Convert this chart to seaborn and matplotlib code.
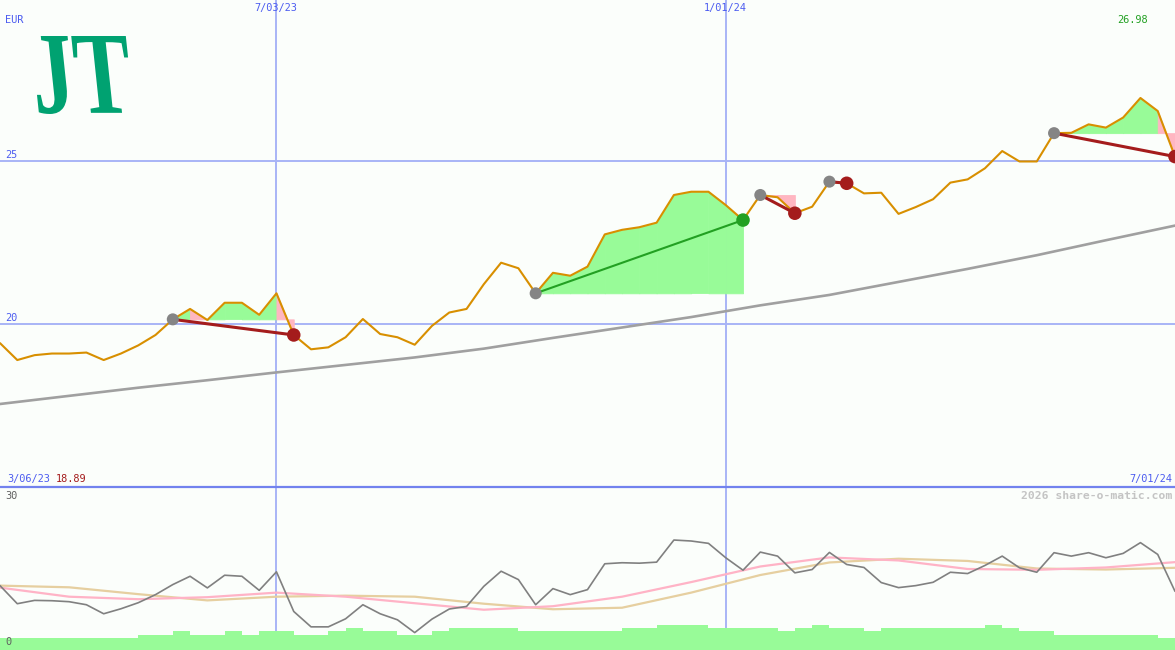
"""
Weekly share chart: price with trade markers, long moving average and an
indicator panel (three lines plus volume-like bars) underneath.
"""
import matplotlib

matplotlib.use("Agg")  # headless
import matplotlib.pyplot as plt  # noqa: E402
from matplotlib.font_manager import FontProperties  # noqa: E402
from matplotlib.lines import Line2D  # noqa: E402
from matplotlib.patches import PathPatch  # noqa: E402
from matplotlib.textpath import TextPath  # noqa: E402
from matplotlib.transforms import Affine2D, IdentityTransform  # noqa: E402

import pandas as pd  # noqa: E402
import seaborn as sns  # noqa: E402

# ---- data ----
weeks = pd.date_range("2023-03-13", periods=69, freq="7D")

price = [19.42, 18.90, 19.05, 19.10, 19.10, 19.13, 18.90, 19.10, 19.35, 19.67,
         20.15, 20.47, 20.13, 20.66, 20.66, 20.29, 20.95, 19.67, 19.23, 19.29,
         19.60, 20.16, 19.70, 19.60, 19.37, 19.95, 20.36, 20.47, 21.23, 21.89,
         21.72, 20.95, 21.58, 21.49, 21.77, 22.76, 22.90, 22.98, 23.12, 23.97,
         24.07, 24.07, 23.66, 23.20, 23.97, 23.90, 23.41, 23.61, 24.38, 24.33,
         24.02, 24.04, 23.39, 23.60, 23.84, 24.35, 24.45, 24.79, 25.32, 25.00,
         25.00, 25.87, 25.88, 26.14, 26.04, 26.35, 26.95, 26.55, 25.15]

# long moving average, sampled every 4 weeks
ma_long = [17.55, 17.80, 18.05, 18.28, 18.52, 18.75, 18.98, 19.25, 19.58,
           19.90, 20.22, 20.58, 20.90, 21.30, 21.70, 22.12, 22.58, 23.03]

# trades: (entry week, exit week)
trades = [(10, 17), (31, 43), (44, 46), (48, 49), (61, 68)]

# indicator panel
osc = [11.85, 8.52, 9.13, 9.07, 8.89, 8.33, 6.67, 7.59, 8.70, 10.19,
       12.04, 13.57, 11.43, 13.76, 13.57, 10.98, 14.39, 7.09, 4.26, 4.26,
       5.74, 8.33, 6.67, 5.56, 3.20, 5.69, 7.54, 8.02, 11.72, 14.50,
       12.96, 8.33, 11.30, 10.19, 11.11, 15.87, 16.06, 15.98, 16.17, 20.24,
       20.06, 19.63, 16.98, 14.69, 18.02, 17.28, 14.20, 14.81, 17.96, 15.74,
       15.19, 12.41, 11.48, 11.85, 12.46, 14.31, 14.07, 15.56, 17.28, 15.13,
       14.31, 17.91, 17.28, 17.91, 16.98, 17.78, 19.76, 17.59, 10.80]

# smooth signal lines, sampled every 4 weeks
sig_pink = [11.48, 9.81, 9.35, 9.72, 10.56, 9.81, 8.61, 7.41, 8.06,
            9.81, 12.50, 15.37, 17.04, 16.48, 14.91, 14.76, 15.19, 16.17]
sig_tan = [11.85, 11.54, 10.28, 9.13, 9.81, 10.00, 9.81, 8.52, 7.50,
           7.78, 10.56, 13.80, 16.11, 16.80, 16.39, 15.00, 14.81, 15.13]

volume = [2.28] * 8 + [2.83, 2.83, 3.52, 2.83, 2.83, 3.52, 2.83, 3.52, 3.52,
          2.83, 2.83, 3.52, 4.13, 3.52, 3.52, 2.83, 2.83, 3.52,
          4.13, 4.13, 4.13, 4.13] + [3.52] * 6 + [4.13, 4.13, 4.63, 4.63, 4.63,
          4.13, 4.13, 4.13, 4.13, 3.52, 4.13, 4.63, 4.13, 4.13, 3.52] + \
    [4.13] * 6 + [4.69, 4.13, 3.52, 3.52] + [2.83] * 6 + [2.28]

grid_dates = [pd.Timestamp("2023-07-03"), pd.Timestamp("2024-01-01")]
price_grid = [20, 25]

# ---- style ----
BG = "#fbfefb"
GRID = "#a8b4f6"
SEP = "#7282ee"
BLUE_TXT = "#4c5cf0"
ORANGE = "#d88f00"
GAIN = "#98fb98"
LOSS = "#ffb6c1"
RED = "#a41c1c"
GREEN = "#22a022"

sns.set_style("white")
plt.rcParams["font.family"] = ["DejaVu Sans Mono", "DejaVu Sans"]

W, H = 1175, 650
fig = plt.figure(figsize=(W / 100, H / 100), dpi=100, facecolor=BG)
ax = fig.add_axes([0, 163 / H, 1, 487 / H])
axl = fig.add_axes([0, 0, 1, 163 / H])
for a in (ax, axl):
    a.set_facecolor(BG)
    for s in a.spines.values():
        s.set_visible(False)
    a.set_xlim(weeks[0], weeks[-1])

ax.set_ylim(15.0, 29.96)
axl.set_ylim(0, 30)

# grid
for v in price_grid:
    ax.axhline(v, color=GRID, lw=1.4, zorder=0)
for d in grid_dates:
    ax.axvline(d, color=GRID, lw=1.4, zorder=0)
    axl.axvline(d, color=GRID, lw=1.4, zorder=0)

# trade fills: each week coloured by whether it closes above the entry level
for a, b in trades:
    level = price[a]
    for i in range(a, b):
        col = GAIN if price[i + 1] >= level else LOSS
        ax.fill_between(weeks[i:i + 2], price[i:i + 2], level,
                        facecolor=col, edgecolor=col, lw=0.6, zorder=1)

sns.lineplot(x=weeks[::4], y=ma_long, ax=ax, color="#a0a0a0", lw=1.9, zorder=2)
sns.lineplot(x=weeks, y=price, ax=ax, color=ORANGE, lw=1.5, zorder=3)

for a, b in trades:
    win = price[b] > price[a]
    sns.lineplot(x=[weeks[a], weeks[b]], y=[price[a], price[b]], ax=ax,
                 color=GREEN if win else RED, lw=1.5 if win else 2.2, zorder=4)
    sns.scatterplot(x=[weeks[a]], y=[price[a]], ax=ax, s=75, color="#858585",
                    edgecolor="none", zorder=5)
    sns.scatterplot(x=[weeks[b]], y=[price[b]], ax=ax, s=95,
                    color=GREEN if win else RED, edgecolor="none", zorder=5)

# lower panel
axl.bar(weeks[:-1], volume, width=7, align="edge", color=GAIN, lw=0, zorder=1)
sns.lineplot(x=weeks[::4], y=sig_tan, ax=axl, color="#e6cfa0", lw=1.6, zorder=2)
sns.lineplot(x=weeks[::4], y=sig_pink, ax=axl, color="#ffb3c6", lw=1.6, zorder=3)
sns.lineplot(x=weeks, y=osc, ax=axl, color="#808080", lw=1.2, zorder=4)

for a in (ax, axl):
    a.set_xticks([])
    a.set_yticks([])
    a.set_xlabel("")
    a.set_ylabel("")

# separator between panels
fig.add_artist(Line2D([0, 1], [163 / H, 163 / H], color=SEP, lw=1.6,
                      transform=fig.transFigure))


def txt(x, y, s, **kw):
    """Place text at pixel position (x, y from top)."""
    kw.setdefault("fontsize", 7.4)
    fig.text(x / W, 1 - y / H, s, **kw)


txt(5, 20, "EUR", color=BLUE_TXT, va="center")
txt(276, 8, "7/03/23", color=BLUE_TXT, ha="center", va="center")
txt(725, 8, "1/01/24", color=BLUE_TXT, ha="center", va="center")
txt(1148, 20, "26.98", color=GREEN, ha="right", va="center")
txt(5, 155, "25", color=BLUE_TXT, va="center")
txt(5, 318, "20", color=BLUE_TXT, va="center")
txt(7, 479, "3/06/23", color=BLUE_TXT, va="center")
txt(56, 479, "18.89", color=RED, va="center")
txt(1172, 479, "7/01/24", color=BLUE_TXT, ha="right", va="center")
txt(5, 496, "30", color="#606060", va="center")
txt(5, 642, "0", color="#606060", va="center")
txt(1172, 496, "2026 share-o-matic.com", color="#c4c4c4", ha="right",
    va="center", fontweight="bold", fontsize=8.2)

# logo
tp = TextPath((0, 0), "JT", size=1,
              prop=FontProperties(family="Liberation Serif", weight="bold"))
ext = tp.get_extents()
x0, x1, ytop, ybot = 35, 130, 36, 114
tr = (Affine2D().translate(-ext.x0, -ext.y0)
      .scale((x1 - x0) / ext.width, (ybot - ytop) / ext.height)
      .skew_deg(-6, 0)
      .translate(x0 + 4, H - ybot))
fig.add_artist(PathPatch(tr.transform_path(tp), color="#00a271", lw=0,
                         transform=IdentityTransform()))

fig.savefig("out.png", dpi=100, facecolor=BG)
